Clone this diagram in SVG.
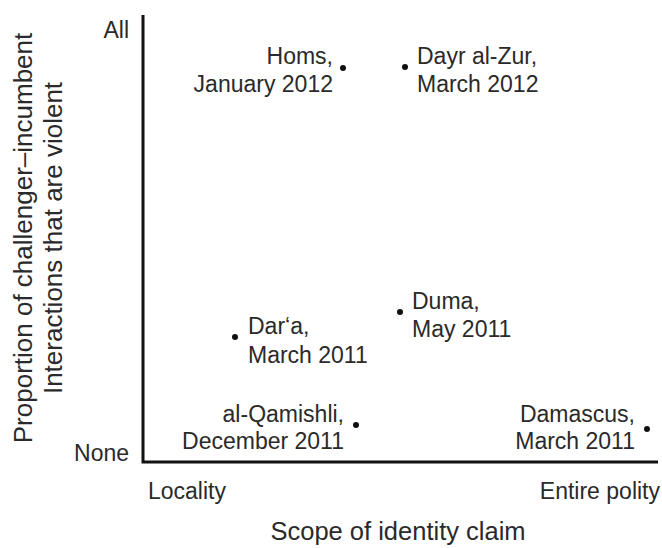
<svg xmlns="http://www.w3.org/2000/svg" width="662" height="548" viewBox="0 0 662 548">
<style>
text{font-family:"Liberation Sans",Arial,sans-serif;fill:#2a2a2a}
.lab{font-size:23px}
.ttl{font-size:26px}
.r{text-anchor:end}
.dot{fill:#111}
.axis{stroke:#111;stroke-width:3;fill:none}
</style>
<rect width="662" height="548" fill="#fff"/>
<g id="axes">
<path class="axis" d="M143,15 V462 H658"/>
<text class="lab r" x="129" y="38">All</text>
<text class="lab r" x="129" y="461">None</text>
<text class="lab" x="148" y="499">Locality</text>
<text class="lab r" x="660" y="499">Entire polity</text>
<text class="ttl" x="398" y="540" text-anchor="middle" style="font-size:25.5px">Scope of identity claim</text>
<g transform="translate(32,238) rotate(-90)">
<text class="ttl" x="0" y="0" text-anchor="middle">Proportion of challenger–incumbent</text>
<text class="ttl" x="0" y="30" text-anchor="middle">Interactions that are violent</text>
</g>
</g>
<g id="homs">
<circle class="dot" cx="343" cy="68" r="3"/>
<text class="lab r" x="333" y="64">Homs,</text>
<text class="lab r" x="333" y="92">January 2012</text>
</g>
<g id="dayr">
<circle class="dot" cx="405" cy="67" r="3"/>
<text class="lab" x="417" y="64">Dayr al-Zur,</text>
<text class="lab" x="417" y="92">March 2012</text>
</g>
<g id="duma">
<circle class="dot" cx="400" cy="312" r="3"/>
<text class="lab" x="412" y="309">Duma,</text>
<text class="lab" x="412" y="337">May 2011</text>
</g>
<g id="dara">
<circle class="dot" cx="235" cy="337" r="3"/>
<text class="lab" x="248" y="334">Dar‘a,</text>
<text class="lab" x="248" y="363">March 2011</text>
</g>
<g id="qamishli">
<circle class="dot" cx="356" cy="425" r="3"/>
<text class="lab r" x="344" y="422">al-Qamishli,</text>
<text class="lab r" x="344" y="449">December 2011</text>
</g>
<g id="damascus">
<circle class="dot" cx="647" cy="429" r="3"/>
<text class="lab r" x="635" y="422">Damascus,</text>
<text class="lab r" x="635" y="449">March 2011</text>
</g>
</svg>
